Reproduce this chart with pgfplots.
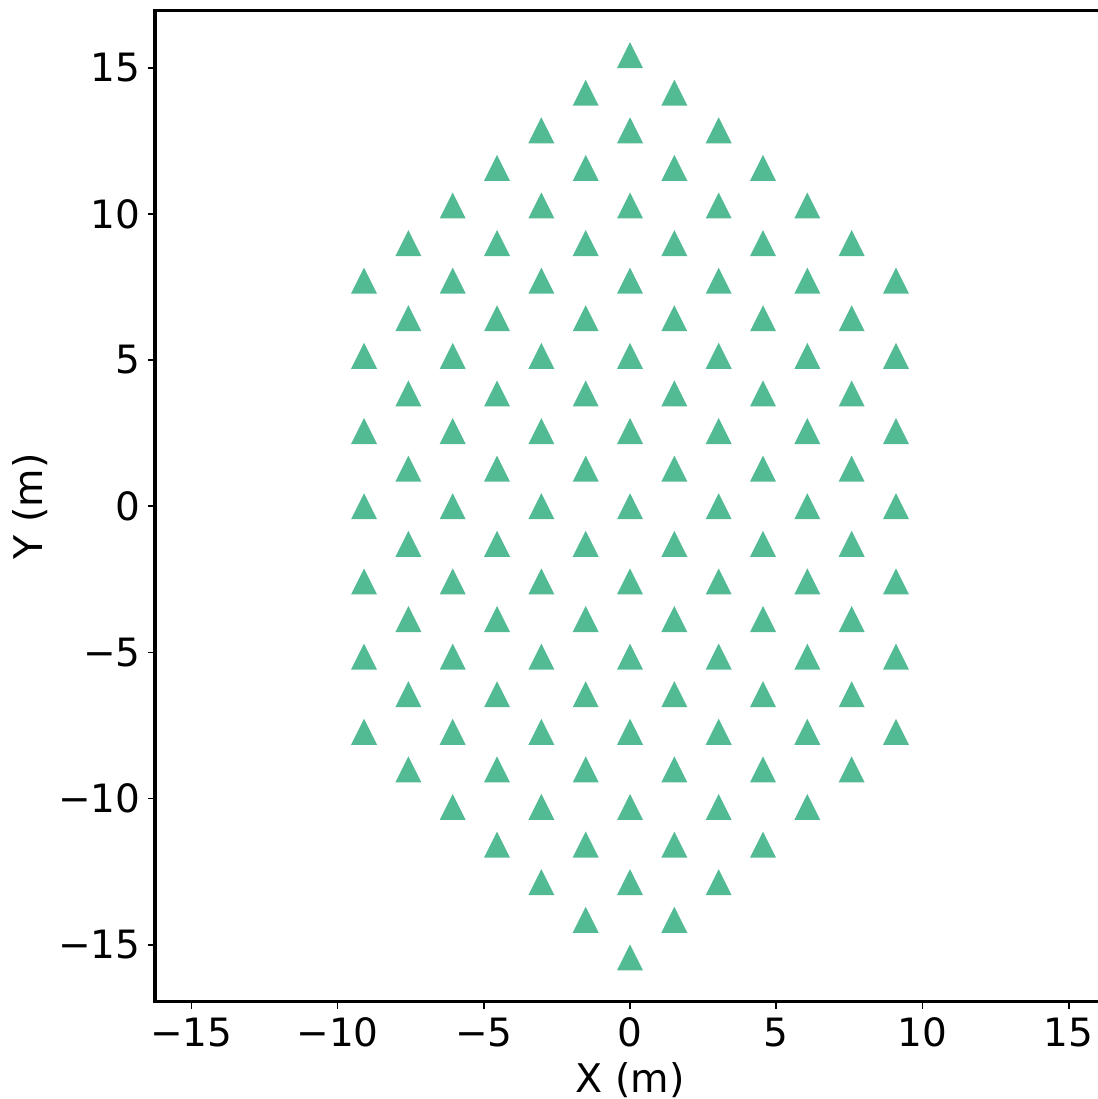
\documentclass[border=0pt]{standalone}
\usepackage{fontspec}
\setmainfont{DejaVu Sans}
\usepackage{pgfplots}
\pgfplotsset{compat=1.18}
\definecolor{tri}{RGB}{83,187,147}
\pgfdeclareplotmark{mtri}{%
  \pgfpathmoveto{\pgfqpoint{0pt}{\pgfplotmarksize}}%
  \pgfpathlineto{\pgfqpoint{-\pgfplotmarksize}{-\pgfplotmarksize}}%
  \pgfpathlineto{\pgfqpoint{\pgfplotmarksize}{-\pgfplotmarksize}}%
  \pgfpathclose\pgfusepathqfill}
\begin{document}
\begin{tikzpicture}
\begin{axis}[
  scale only axis,
  width=380pt, height=396.4pt,
  xmin=-16.245, xmax=16.245, ymin=-16.95, ymax=16.95,
  axis line style={line width=1.4pt, black},
  tick align=outside,
  xtick pos=bottom, ytick pos=left,
  major tick length=2.8pt,
  tick style={line width=0.7pt, black},
  xtick={-15,-10,-5,0,5,10,15},
  ytick={-15,-10,-5,0,5,10,15},
  xticklabels={−15,−10,−5,0,5,10,15},
  yticklabels={−15,−10,−5,0,5,10,15},
  every tick label/.append style={font=\fontsize{15.6}{19}\selectfont, inner sep=0pt},
  xticklabel style={anchor=north, yshift=-3.5pt},
  yticklabel style={anchor=east, xshift=-2.8pt},
  label style={font=\fontsize{15.8}{19}\selectfont},
  xlabel={X (m)},
  ylabel={Y (m)},
  xlabel style={at={(axis description cs:0.5,-0.0911)}, anchor=base, inner sep=0pt},
  ylabel style={at={(axis description cs:-0.1179,0.5)}, anchor=base, inner sep=0pt},
]
\addplot[only marks, mark=mtri, mark size=5.2pt, color=tri] table[row sep=\\] {
x y\\
0 -15.432\\ 0 -12.86\\ 0 -10.288\\ 0 -7.716\\ 0 -5.144\\ 0 -2.572\\ 0 0\\ 0 2.572\\ 0 5.144\\ 0 7.716\\ 0 10.288\\ 0 12.86\\ 0 15.432\\
-1.516 -14.146\\ -1.516 -11.574\\ -1.516 -9.002\\ -1.516 -6.43\\ -1.516 -3.858\\ -1.516 -1.286\\ -1.516 1.286\\ -1.516 3.858\\ -1.516 6.43\\ -1.516 9.002\\ -1.516 11.574\\ -1.516 14.146\\
1.516 -14.146\\ 1.516 -11.574\\ 1.516 -9.002\\ 1.516 -6.43\\ 1.516 -3.858\\ 1.516 -1.286\\ 1.516 1.286\\ 1.516 3.858\\ 1.516 6.43\\ 1.516 9.002\\ 1.516 11.574\\ 1.516 14.146\\
-3.032 -12.86\\ -3.032 -10.288\\ -3.032 -7.716\\ -3.032 -5.144\\ -3.032 -2.572\\ -3.032 0\\ -3.032 2.572\\ -3.032 5.144\\ -3.032 7.716\\ -3.032 10.288\\ -3.032 12.86\\
3.032 -12.86\\ 3.032 -10.288\\ 3.032 -7.716\\ 3.032 -5.144\\ 3.032 -2.572\\ 3.032 0\\ 3.032 2.572\\ 3.032 5.144\\ 3.032 7.716\\ 3.032 10.288\\ 3.032 12.86\\
-4.548 -11.574\\ -4.548 -9.002\\ -4.548 -6.43\\ -4.548 -3.858\\ -4.548 -1.286\\ -4.548 1.286\\ -4.548 3.858\\ -4.548 6.43\\ -4.548 9.002\\ -4.548 11.574\\
4.548 -11.574\\ 4.548 -9.002\\ 4.548 -6.43\\ 4.548 -3.858\\ 4.548 -1.286\\ 4.548 1.286\\ 4.548 3.858\\ 4.548 6.43\\ 4.548 9.002\\ 4.548 11.574\\
-6.064 -10.288\\ -6.064 -7.716\\ -6.064 -5.144\\ -6.064 -2.572\\ -6.064 0\\ -6.064 2.572\\ -6.064 5.144\\ -6.064 7.716\\ -6.064 10.288\\
6.064 -10.288\\ 6.064 -7.716\\ 6.064 -5.144\\ 6.064 -2.572\\ 6.064 0\\ 6.064 2.572\\ 6.064 5.144\\ 6.064 7.716\\ 6.064 10.288\\
-7.58 -9.002\\ -7.58 -6.43\\ -7.58 -3.858\\ -7.58 -1.286\\ -7.58 1.286\\ -7.58 3.858\\ -7.58 6.43\\ -7.58 9.002\\
7.58 -9.002\\ 7.58 -6.43\\ 7.58 -3.858\\ 7.58 -1.286\\ 7.58 1.286\\ 7.58 3.858\\ 7.58 6.43\\ 7.58 9.002\\
-9.096 -7.716\\ -9.096 -5.144\\ -9.096 -2.572\\ -9.096 0\\ -9.096 2.572\\ -9.096 5.144\\ -9.096 7.716\\
9.096 -7.716\\ 9.096 -5.144\\ 9.096 -2.572\\ 9.096 0\\ 9.096 2.572\\ 9.096 5.144\\ 9.096 7.716\\
};
\end{axis}
\pgfresetboundingbox
\path[use as bounding box] ([shift={(-62pt,-38.9pt)}]current axis.south west) rectangle ([shift={(376.8pt,4.28pt)}]current axis.north west);
\end{tikzpicture}
\end{document}
